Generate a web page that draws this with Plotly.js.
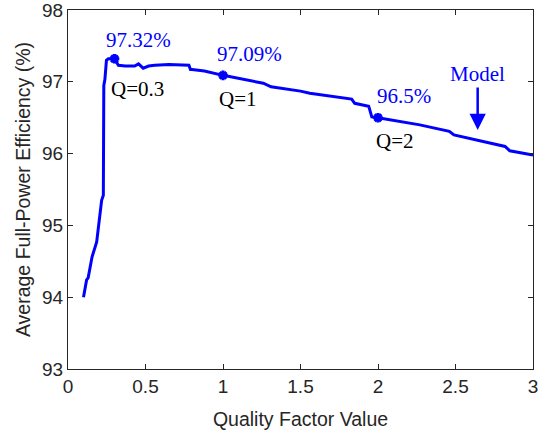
<!DOCTYPE html>
<html>
<head>
<meta charset="utf-8">
<script src="https://cdn.plot.ly/plotly-3.0.1.min.js"></script>
<style>html,body{margin:0;padding:0;background:#fff;}#chart{width:538px;height:431px;}</style>
</head>
<body>
<div id="chart"></div>
<script>
// Model curve: quality factor vs average full-power efficiency (%)
const qualityFactor = [0.10, 0.12, 0.13, 0.155, 0.185, 0.217, 0.228, 0.231, 0.238, 0.248, 0.26, 0.30, 0.325, 0.37, 0.43, 0.455, 0.485, 0.52, 0.56, 0.65, 0.78, 0.79, 0.80, 0.88, 1.0, 1.26, 1.31, 1.50, 1.56, 1.83, 1.85, 1.94, 1.96, 2.0, 2.27, 2.46, 2.49, 2.82, 2.85, 3.0];
const efficiency = [94.0, 94.24, 94.27, 94.56, 94.77, 95.35, 95.42, 96.95, 97.03, 97.30, 97.32, 97.32, 97.23, 97.22, 97.22, 97.25, 97.19, 97.22, 97.23, 97.24, 97.23, 97.17, 97.17, 97.15, 97.09, 96.98, 96.93, 96.87, 96.84, 96.76, 96.70, 96.66, 96.51, 96.50, 96.40, 96.31, 96.26, 96.10, 96.04, 95.98];

// Highlighted points
const markQ = [0.3, 1, 2];
const markEff = [97.32, 97.09, 96.5];
const markValueLabels = ['97.32%', '97.09%', '96.5%'];
const markQLabels = ['Q=0.3', 'Q=1', 'Q=2'];

const modelLabel = 'Model';
const modelArrowQ = 2.643;
const modelArrowEff = 96.33;

const xTitle = 'Quality Factor Value';
const yTitle = 'Average Full-Power Efficiency (%)';

const blue = '#0000FF';
const axisColor = '#262626';
const sans = 'Liberation Sans, Arial, sans-serif';
const serif = 'Liberation Serif, Times New Roman, serif';

const traces = [
  {x: qualityFactor, y: efficiency, type: 'scatter', mode: 'lines',
   line: {color: blue, width: 3}, hoverinfo: 'skip'},
  {x: markQ, y: markEff, type: 'scatter', mode: 'markers',
   marker: {symbol: 'asterisk-open', size: 8, color: blue, line: {color: blue, width: 3}}, hoverinfo: 'skip'}
];

const annotations = [];
const valueShift = [[24, 19], [26, 21], [26, 22]];
const qShift = [[23, -30], [15, -24], [17, -23]];
for (let i = 0; i < markQ.length; i++) {
  annotations.push({x: markQ[i], y: markEff[i], xref: 'x', yref: 'y', text: markValueLabels[i],
    showarrow: false, xshift: valueShift[i][0], yshift: valueShift[i][1],
    font: {family: serif, size: 21, color: blue}});
  annotations.push({x: markQ[i], y: markEff[i], xref: 'x', yref: 'y', text: markQLabels[i],
    showarrow: false, xshift: qShift[i][0], yshift: qShift[i][1],
    font: {family: serif, size: 21, color: '#000000'}});
}
annotations.push({x: modelArrowQ, y: modelArrowEff, xref: 'x', yref: 'y', text: modelLabel,
  showarrow: true, ax: 0, ay: -56, arrowhead: 2, arrowsize: 1.3, arrowwidth: 2.5, arrowcolor: blue,
  standoff: 0, startstandoff: 0,
  font: {family: serif, size: 21, color: blue}});

const axisCommon = {
  showline: true, mirror: 'ticks', linecolor: axisColor, linewidth: 1,
  ticks: 'inside', ticklen: 5, tickwidth: 1, tickcolor: axisColor,
  showgrid: false, zeroline: false, ticklabeloverflow: 'allow',
  tickfont: {family: sans, size: 19, color: axisColor}
};

const layout = {
  width: 538, height: 431,
  margin: {l: 68, r: 5, t: 10, b: 62},
  paper_bgcolor: '#ffffff', plot_bgcolor: '#ffffff',
  showlegend: false,
  xaxis: Object.assign({}, axisCommon, {
    range: [0, 3], dtick: 0.5, tick0: 0,
    title: {text: xTitle, font: {family: sans, size: 19.5, color: axisColor}, standoff: 16}
  }),
  yaxis: Object.assign({}, axisCommon, {
    range: [93, 98], dtick: 1, tick0: 93,
    title: {text: yTitle, font: {family: sans, size: 19.5, color: axisColor}, standoff: 6}
  }),
  annotations: annotations
};

Plotly.newPlot('chart', traces, layout, {staticPlot: true, displayModeBar: false});
</script>
</body>
</html>
